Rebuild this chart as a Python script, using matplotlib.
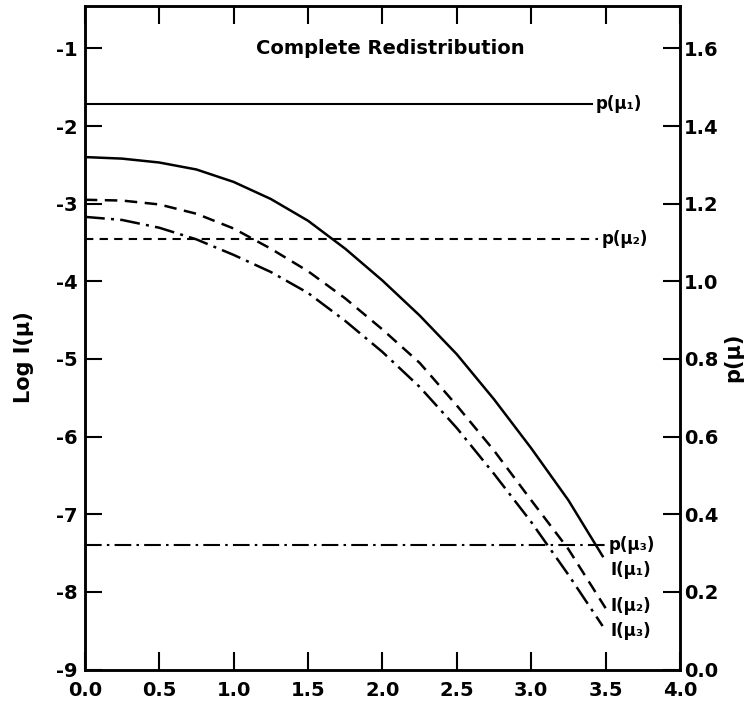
import matplotlib.pyplot as plt
import numpy as np

plt.rcParams['font.family'] = ['DejaVu Sans']
plt.rcParams['font.weight'] = 'bold'

# log I(mu) curves
mu_1 = [0.0, 0.25, 0.5, 0.75, 1.0, 1.25, 1.5, 1.75, 2.0, 2.25, 2.5, 2.75, 3.0, 3.25, 3.48]
logI_1 = [-2.40, -2.42, -2.47, -2.56, -2.72, -2.94, -3.22, -3.58, -3.99, -4.44, -4.94, -5.52, -6.15, -6.82, -7.54]

mu_2 = [0.0, 0.25, 0.5, 0.75, 1.0, 1.25, 1.5, 1.75, 2.0, 2.25, 2.5, 2.75, 3.0, 3.25, 3.5]
logI_2 = [-2.95, -2.96, -3.01, -3.13, -3.32, -3.58, -3.87, -4.22, -4.62, -5.05, -5.60, -6.18, -6.82, -7.45, -8.21]

mu_3 = [0.0, 0.25, 0.5, 0.75, 1.0, 1.25, 1.5, 1.75, 2.0, 2.25, 2.5, 2.75, 3.0, 3.25, 3.48]
logI_3 = [-3.17, -3.21, -3.31, -3.46, -3.66, -3.88, -4.15, -4.51, -4.91, -5.36, -5.89, -6.48, -7.10, -7.78, -8.44]

# p(mu) values (right axis) and where the lines stop
p_vals = [1.456, 1.108, 0.322]
p_ends = [3.41, 3.45, 3.50]
p_labels = ['p(μ₁)', 'p(μ₂)', 'p(μ₃)']
I_labels = ['I(μ₁)', 'I(μ₂)', 'I(μ₃)']
I_label_y = [-7.72, -8.18, -8.50]

fig = plt.figure(figsize=(7.44, 7.07), dpi=100)
ax = fig.add_axes([0.114, 0.053, 0.800, 0.939])
ax2 = ax.twinx()

lw = 1.8
ax.plot(mu_1, logI_1, color='black', lw=lw, linestyle='-')
ax.plot(mu_2, logI_2, color='black', lw=lw, linestyle=(0, (5, 3)))
ax.plot(mu_3, logI_3, color='black', lw=lw, linestyle=(0, (8, 2.5, 1.2, 2.5)))

styles = ['-', (0, (4, 3)), (0, (8, 2.5, 1.2, 2.5))]
for p, end, st in zip(p_vals, p_ends, styles):
    ax2.plot([0.0, end], [p, p], color='black', lw=1.5, linestyle=st)

ax.set_xlim(0, 4)
ax.set_ylim(-9, -0.45)
ax2.set_ylim(0, 1.71)

ax.set_xticks(np.arange(0, 4.01, 0.5))
ax.set_xticklabels(['0.0', '0.5', '1.0', '1.5', '2.0', '2.5', '3.0', '3.5', '4.0'])
ax.set_yticks(np.arange(-9, -0.9, 1))
ax.set_yticklabels(['-9', '-8', '-7', '-6', '-5', '-4', '-3', '-2', '-1'])
ax2.set_yticks(np.arange(0, 1.61, 0.2))
ax2.set_yticklabels(['0.0', '0.2', '0.4', '0.6', '0.8', '1.0', '1.2', '1.4', '1.6'])

ax.tick_params(axis='x', direction='in', length=13, width=1.5, top=True, labelsize=14, pad=8)
ax.tick_params(axis='y', direction='in', length=12, width=1.5, labelsize=14, pad=5)
ax2.tick_params(axis='y', direction='in', length=12, width=1.5, labelsize=14, pad=3)
for a in (ax, ax2):
    for s in a.spines.values():
        s.set_linewidth(1.8)

ax.set_ylabel('Log I(μ)', fontsize=15, fontweight='bold')
ax.yaxis.set_label_coords(-0.085, 0.47)
ax2.set_ylabel('p(μ)', fontsize=15, fontweight='bold')
ax2.yaxis.set_label_coords(1.072, 0.47)

ax.text(2.05, -1.0, 'Complete Redistribution', ha='center', va='center', fontsize=14, fontweight='bold')

# line labels
for p, end, lab in zip(p_vals, p_ends, p_labels):
    ax2.text(end + 0.02, p, lab, ha='left', va='center', fontsize=12, fontweight='bold')
for lab, y in zip(I_labels, I_label_y):
    ax.text(3.53, y, lab, ha='left', va='center', fontsize=12, fontweight='bold')

fig.savefig('out.png', dpi=100)
